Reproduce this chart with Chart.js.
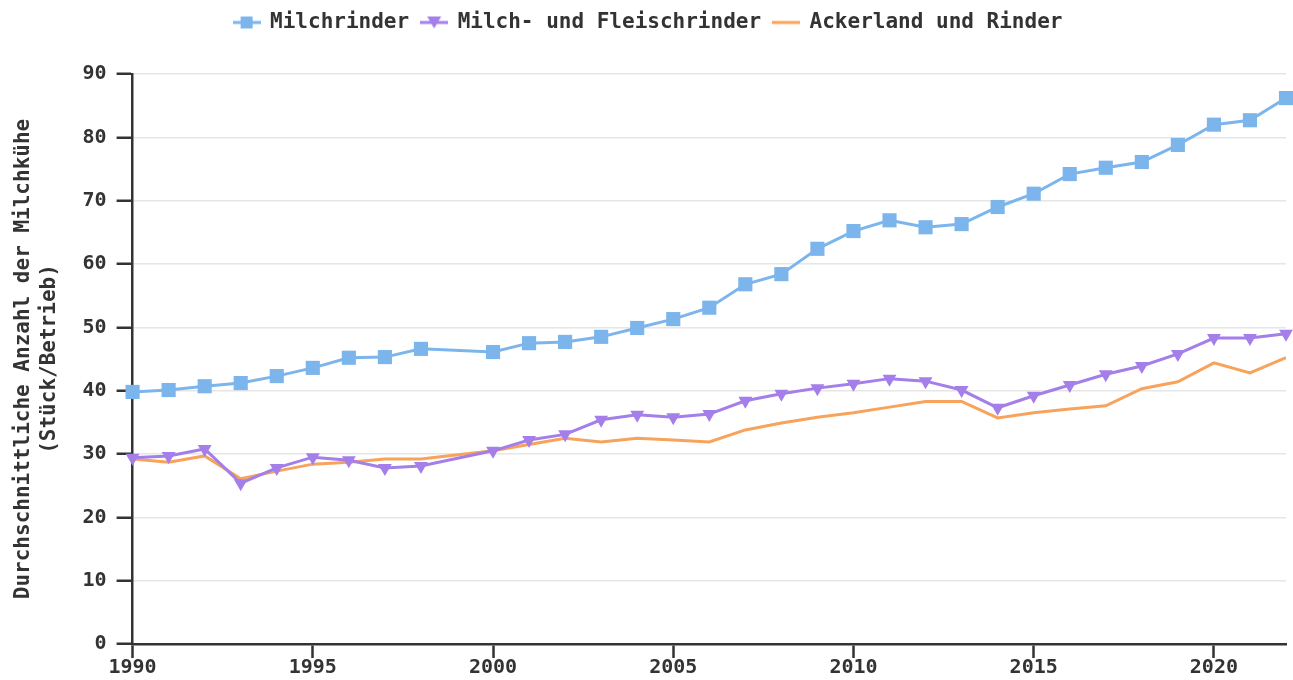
<!DOCTYPE html>
<html>
<head>
<meta charset="utf-8">
<script src="https://cdn.jsdelivr.net/npm/chart.js@4"></script>
<style>
    body { margin: 0; background: #fff; }
    #wrap { width: 1293px; height: 680px; }
</style>
</head>
<body>
<div id="wrap"><canvas id="chart"></canvas></div>
<script>
// Jahre (1999 fehlt in den Daten)
const years = [1990, 1991, 1992, 1993, 1994, 1995, 1996, 1997, 1998,
    2000, 2001, 2002, 2003, 2004, 2005, 2006, 2007, 2008, 2009, 2010, 2011,
    2012, 2013, 2014, 2015, 2016, 2017, 2018, 2019, 2020, 2021, 2022];
const milchrinder = [39.8, 40.1, 40.7, 41.2, 42.3, 43.6, 45.2, 45.3, 46.6,
    46.1, 47.5, 47.7, 48.5, 49.9, 51.3, 53.1, 56.8, 58.4, 62.4, 65.2, 66.9,
    65.8, 66.3, 69.0, 71.1, 74.2, 75.2, 76.1, 78.8, 82.0, 82.7, 86.2];
const milchFleisch = [29.4, 29.7, 30.8, 25.4, 27.8, 29.5, 29.0, 27.8, 28.1,
    30.5, 32.2, 33.1, 35.4, 36.2, 35.8, 36.3, 38.4, 39.5, 40.4, 41.1, 41.9,
    41.5, 40.1, 37.3, 39.2, 40.9, 42.6, 43.9, 45.8, 48.3, 48.3, 49.0];
const ackerland = [29.2, 28.7, 29.7, 26.1, 27.3, 28.4, 28.7, 29.2, 29.2,
    30.5, 31.5, 32.5, 31.9, 32.5, 32.2, 31.9, 33.8, 34.9, 35.8, 36.5, 37.4,
    38.3, 38.3, 35.7, 36.5, 37.1, 37.6, 40.3, 41.4, 44.4, 42.8, 45.2];
const seriesNames = ["Milchrinder", "Milch- und Fleischrinder", "Ackerland und Rinder"];
const yTitle = ["Durchschnittliche Anzahl der Milchkühe", "(Stück/Betrieb)"];

const blue = "#7cb5ec";
const purple = "#a47ee9";
const orange = "#f7a35c";
const dark = "#333333";
const font = "'DejaVu Sans Mono', monospace";

function toPoints(values) {
    return values.map((v, i) => ({ x: years[i], y: v }));
}

// kleine Legendensymbole: Linie mit Marker
function legendIcon(color, marker) {
    const c = document.createElement("canvas");
    c.width = 28;
    c.height = 16;
    const ctx = c.getContext("2d");
    ctx.strokeStyle = color;
    ctx.fillStyle = color;
    ctx.lineWidth = 3;
    ctx.beginPath();
    ctx.moveTo(0, 8);
    ctx.lineTo(28, 8);
    ctx.stroke();
    if (marker === "rect") {
        ctx.fillRect(8, 2, 12, 12);
    } else if (marker === "tri") {
        ctx.beginPath();
        ctx.moveTo(7, 2);
        ctx.lineTo(21, 2);
        ctx.lineTo(14, 14);
        ctx.closePath();
        ctx.fill();
    }
    return c;
}
const icons = [legendIcon(blue, "rect"), legendIcon(purple, "tri"), legendIcon(orange, null)];

// etwas Abstand unter der Legende
const legendGap = {
    id: "legendGap",
    beforeInit(chart) {
        const fit = chart.legend.fit;
        chart.legend.fit = function () {
            fit.bind(chart.legend)();
            this.height += 31;
        };
    },
};

const data = {
    datasets: [
        {
            label: seriesNames[0],
            data: toPoints(milchrinder),
            borderColor: blue,
            backgroundColor: blue,
            borderWidth: 3,
            pointStyle: "rect",
            pointRadius: 10,
            pointHoverRadius: 10,
            pointBorderWidth: 0,
            clip: false,
        },
        {
            label: seriesNames[1],
            data: toPoints(milchFleisch),
            borderColor: purple,
            backgroundColor: purple,
            borderWidth: 3,
            pointStyle: "triangle",
            rotation: 180,
            pointRadius: 8,
            pointHoverRadius: 8,
            pointBorderWidth: 0,
            clip: false,
        },
        {
            label: seriesNames[2],
            data: toPoints(ackerland),
            borderColor: orange,
            backgroundColor: orange,
            borderWidth: 3,
            pointRadius: 0,
            pointHoverRadius: 0,
        },
    ],
};

const config = {
    type: "line",
    data: data,
    plugins: [legendGap],
    options: {
        responsive: true,
        maintainAspectRatio: false,
        animation: false,
        layout: {
            autoPadding: false,
            padding: { top: 0, left: 10, right: 7, bottom: 2 },
        },
        elements: {
            line: { tension: 0 },
        },
        plugins: {
            tooltip: { enabled: false },
            legend: {
                position: "top",
                labels: {
                    usePointStyle: true,
                    pointStyleWidth: 26,
                    padding: 12,
                    color: dark,
                    font: { family: font, size: 21, weight: "bold" },
                    generateLabels: (chart) => {
                        const items = Chart.defaults.plugins.legend.labels.generateLabels(chart);
                        items.forEach((item, i) => {
                            item.pointStyle = icons[i];
                            item.rotation = 0;
                        });
                        return items;
                    },
                },
            },
        },
        scales: {
            x: {
                type: "linear",
                min: 1990,
                max: 2022,
                border: { color: dark, width: 2.5 },
                grid: {
                    drawOnChartArea: false,
                    drawTicks: true,
                    tickLength: 14,
                    tickColor: dark,
                    tickWidth: 2.5,
                },
                ticks: {
                    stepSize: 5,
                    padding: 0,
                    color: dark,
                    font: { family: font, size: 20, weight: "bold", lineHeight: 1 },
                    callback: (v) => String(v),
                },
                afterBuildTicks: (axis) => {
                    axis.ticks = axis.ticks.filter((t) => t.value % 5 === 0);
                },
                afterFit: (axis) => {
                    axis.paddingRight = 0;
                },
            },
            y: {
                min: 0,
                max: 90,
                border: { color: dark, width: 2.5 },
                grid: {
                    color: "#e6e6e6",
                    lineWidth: 1.5,
                    tickLength: 16,
                    tickColor: dark,
                    tickWidth: 2.5,
                },
                ticks: {
                    stepSize: 10,
                    padding: 10,
                    color: dark,
                    font: { family: font, size: 20, weight: "bold" },
                },
                title: {
                    display: true,
                    text: yTitle,
                    color: dark,
                    padding: { top: 0, bottom: 10 },
                    font: { family: font, size: 21, weight: "bold", lineHeight: 1.25 },
                },
            },
        },
    },
};

const myChart = new Chart(document.getElementById("chart"), config);
</script>
</body>
</html>
